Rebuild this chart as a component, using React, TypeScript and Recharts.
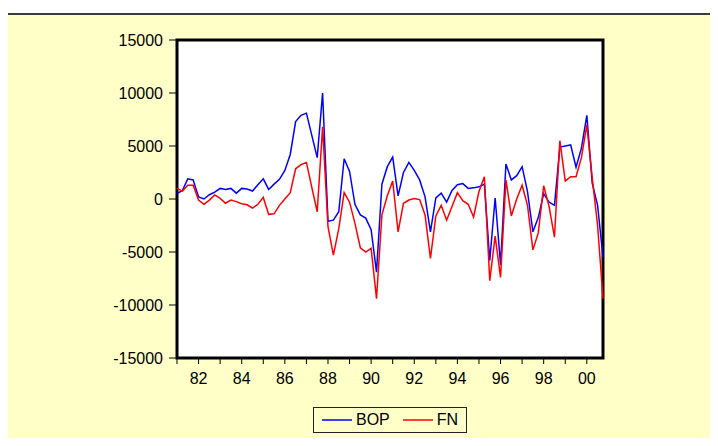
import { LineChart, Line, XAxis, YAxis, CartesianGrid, ReferenceArea } from 'recharts'

// quarterly series, 1981Q1 .. 2000Q4
const years = [
  1981, 1982, 1983, 1984, 1985, 1986, 1987, 1988, 1989, 1990,
  1991, 1992, 1993, 1994, 1995, 1996, 1997, 1998, 1999, 2000,
]

const bop = [
  500, 800, 1900, 1800, 200, 0, 400, 650,
  1000, 900, 1000, 550, 1000, 950, 750, 1350,
  1900, 900, 1400, 1850, 2700, 4200, 7300, 7900,
  8100, 6000, 3900, 10000, -2100, -2000, -1200, 3800,
  2600, -500, -1500, -1800, -2900, -6900, 1400, 3050,
  3950, 300, 2500, 3450, 2700, 1800, 200, -3100,
  100, 550, -300, 800, 1350, 1450, 1000, 1050,
  1150, 1400, -5800, 100, -6200, 3300, 1800, 2200,
  3050, 700, -3100, -1750, 500, -300, -600, 4900,
  5000, 5100, 3000, 4800, 7900, 1500, -600, -5500,
]

const fn = [
  1000, 750, 1300, 1300, -100, -500, -100, 380,
  60, -400, -100, -250, -450, -550, -850, -500,
  150, -1450, -1400, -600, 0, 600, 2850, 3250,
  3450, 1100, -1200, 6800, -2600, -5300, -2800, 600,
  -300, -2300, -4600, -5000, -4650, -9400, -1500, 300,
  1700, -3100, -400, -100, 50, -50, -1500, -5600,
  -1600, -600, -2000, -700, 600, -150, -500, -1700,
  700, 2100, -7700, -3500, -7400, 1800, -1600, 0,
  1300, -600, -4800, -3200, 1250, -700, -3600, 5500,
  1700, 2100, 2100, 3900, 7000, 2000, -2500, -9400,
]

const yTicks = [-15000, -10000, -5000, 0, 5000, 10000, 15000]
const seriesNames = ['BOP', 'FN']

const COLORS: Record<string, string> = { BOP: '#0000ff', FN: '#ff0000' }
const FONT = '"Liberation Sans", Arial, sans-serif'

const data = bop.map((v, i) => ({
  t: years[0] + i / 4,
  BOP: v,
  FN: fn[i],
}))

const lastT = data[data.length - 1].t

function yearLabel(v: number) {
  return v % 2 === 0 ? String(v % 100).padStart(2, '0') : ''
}

function SeriesKey() {
  return (
    <div
      style={{
        position: 'absolute',
        left: 313,
        top: 407,
        width: 154,
        height: 26,
        boxSizing: 'border-box',
        border: '1.5px solid #222',
        display: 'flex',
        alignItems: 'center',
        paddingLeft: 8,
        fontSize: 16,
        color: '#000',
      }}
    >
      {seriesNames.map((name, i) => (
        <div key={name} style={{ display: 'flex', alignItems: 'center', marginLeft: i ? 13 : 0 }}>
          <svg width={30} height={4} style={{ marginRight: 4 }}>
            <line x1={0} y1={2} x2={30} y2={2} stroke={COLORS[name]} strokeWidth={1.5} />
          </svg>
          <span>{name}</span>
        </div>
      ))}
    </div>
  )
}

export default function App() {
  return (
    <div
      style={{
        position: 'relative',
        width: 718,
        height: 446,
        margin: -8,
        background: '#fff',
        fontFamily: FONT,
        overflow: 'hidden',
      }}
    >
      <div style={{ position: 'absolute', left: 7, top: 13, right: 0, height: 2, background: '#3c3c3c' }} />
      <div style={{ position: 'absolute', left: 7, top: 15, right: 0, bottom: 0, background: '#ffffc8' }} />
      <div style={{ position: 'absolute', left: 0, top: 0 }}>
        <LineChart
          width={718}
          height={446}
          data={data}
          margin={{ top: 40, right: 115, bottom: 58, left: 107 }}
          style={{ fontFamily: FONT }}
        >
          <CartesianGrid horizontal={false} vertical={false} fill="#fff" />
          <XAxis
            dataKey="t"
            type="number"
            domain={[years[0], lastT]}
            ticks={years}
            tickFormatter={yearLabel}
            interval={0}
            height={30}
            axisLine={false}
            tickSize={6}
            tickMargin={9}
            tickLine={{ stroke: '#000' }}
            tick={{ fontSize: 16, fill: '#000' }}
          />
          <YAxis
            type="number"
            domain={[-15000, 15000]}
            ticks={yTicks}
            interval={0}
            width={70}
            axisLine={false}
            tickSize={8}
            tickMargin={6}
            tickLine={{ stroke: '#000' }}
            tick={{ fontSize: 16, fill: '#000' }}
          />
          {seriesNames.map((name) => (
            <Line
              key={name}
              type="linear"
              dataKey={name}
              stroke={COLORS[name]}
              strokeWidth={1.5}
              dot={false}
              activeDot={false}
              isAnimationActive={false}
            />
          ))}
          {/* plot frame */}
          <ReferenceArea
            x1={years[0]}
            x2={lastT}
            y1={-15000}
            y2={15000}
            fill="none"
            stroke="#000"
            strokeWidth={3}
            ifOverflow="visible"
          />
        </LineChart>
      </div>
      <SeriesKey />
    </div>
  )
}
